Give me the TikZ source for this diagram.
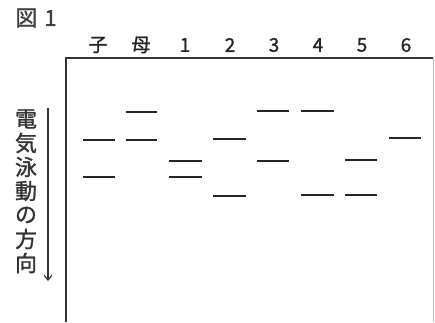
\documentclass[tikz,border=0pt]{standalone}
\usepackage{fontspec}
\usetikzlibrary{arrows.meta}
\newfontfamily\jp[FakeBold=1.2]{Noto Sans CJK JP}
\begin{document}
\begin{tikzpicture}[x=1pt,y=-1pt,
  band/.style={line width=2.6pt, black!85},
  lane/.style={font=\jp\fontsize{19}{19}\selectfont, anchor=center, inner sep=0pt, text=black!85},
  vch/.style={font=\jp\fontsize{22}{22}\selectfont, anchor=center, inner sep=0pt, text=black!80}]
\useasboundingbox (0,0) rectangle (435,322);
% frame
\coordinate (tl) at (66,58);
\coordinate (tr) at (433,58);
\coordinate (bl) at (66,322);
\coordinate (br) at (433,322);
\draw[line width=1.8pt, black!80] (bl) -- (tl) -- (tr);
\draw[line width=0.5pt, black!25] (tr) -- (br);
% title
\node[font=\jp\fontsize{22}{22}\selectfont, anchor=center, inner sep=0pt, text=black!75] (fig) at (36,18) {図\hspace{7pt}1};
% lane labels
\node[lane] (lc) at (98,45) {子};
\node[lane] (lm) at (141,45) {母};
\node[lane] (l1) at (185,45) {1};
\node[lane] (l2) at (230,45) {2};
\node[lane] (l3) at (274,45) {3};
\node[lane] (l4) at (318,45) {4};
\node[lane] (l5) at (362,45) {5};
\node[lane] (l6) at (406,45) {6};
% vertical label
\node[vch] (v1) at (26,119) {電};
\node[vch] (v2) at (26,143) {気};
\node[vch] (v3) at (26,167) {泳};
\node[vch] (v4) at (26,191) {動};
\node[vch] (v5) at (26,215) {の};
\node[vch] (v6) at (26,239) {方};
\node[vch] (v7) at (26,263) {向};
\coordinate (a0) at (48,108);
\coordinate (a1) at (48,281);
\draw[line width=1.1pt, black!80, -{Straight Barb[length=5pt,width=8pt]}] (a0) -- (a1);
% bands
\draw[band] (83,140) -- (115,140);
\draw[band] (83,177) -- (115,177);
\draw[band] (126,112) -- (157,112);
\draw[band] (126,140) -- (157,140);
\draw[band] (169,161) -- (202,161);
\draw[band] (169,177) -- (202,177);
\draw[band] (213,139) -- (246,139);
\draw[band] (213,196) -- (246,196);
\draw[band] (257,111) -- (289,111);
\draw[band] (257,161) -- (289,161);
\draw[band] (301,111) -- (334,111);
\draw[band] (301,195) -- (334,195);
\draw[band] (345,160) -- (377,160);
\draw[band] (345,195) -- (377,195);
\draw[band] (389,138) -- (421,138);
\end{tikzpicture}
\end{document}
